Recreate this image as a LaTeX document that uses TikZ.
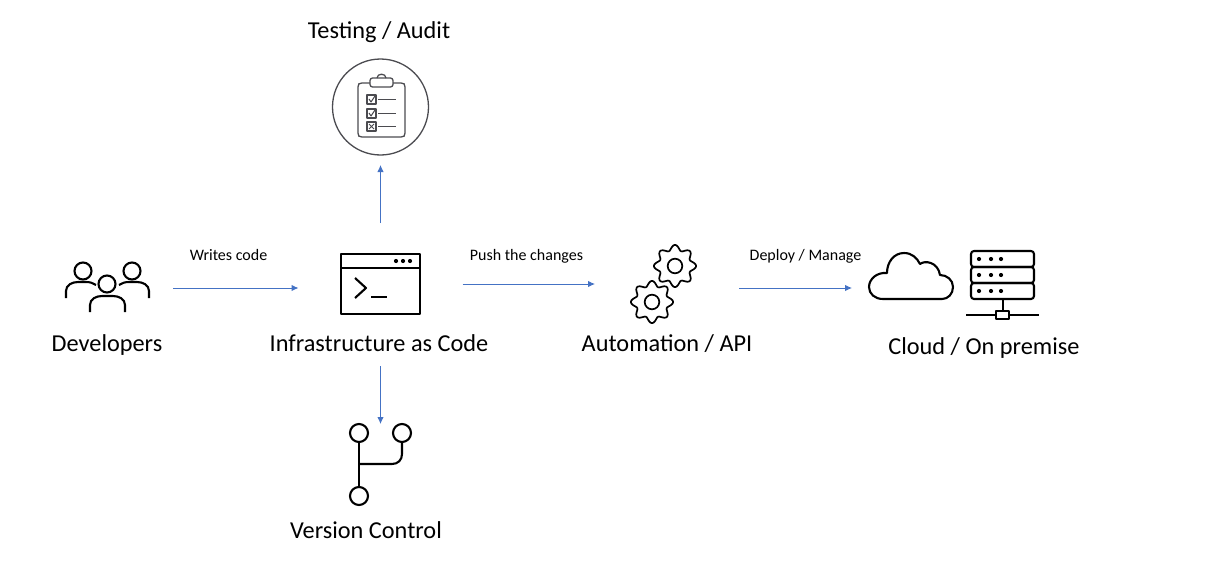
\documentclass[tikz,border=0pt]{standalone}
\usepackage{fontspec}
\setmainfont{Carlito}
\definecolor{flowblue}{RGB}{68,114,196}
\definecolor{auditgray}{RGB}{75,75,80}
\tikzset{
	anchorbox/.style={inner sep=0pt, outer sep=0pt},
	title/.style={inner sep=0pt, anchor=base, font=\fontsize{24.3}{28}\selectfont},
	edgetext/.style={inner sep=0pt, anchor=base, font=\fontsize{16}{19}\selectfont},
	flow/.style={draw=flowblue, line width=1pt, -{Latex[length=7pt, width=6.5pt]}},
	icon/.style={line width=2.1pt, line join=round, black},
	audit/.style={line width=1.3pt, line join=round, auditgray},
}
\usetikzlibrary{arrows.meta}
\newcommand{\gearicon}[2]{
	\draw[icon, line width=1.7pt] plot[smooth cycle, samples=97, domain=0:360, variable=\a]
		({#1+(18.5+2.6*cos(8*\a))*cos(\a)}, {#2+(18.5+2.6*cos(8*\a))*sin(\a)});
	\draw[icon, line width=1.7pt] (#1,#2) circle (7.3);
}
\begin{document}
\begin{tikzpicture}[x=1pt, y=-1pt]
	\useasboundingbox (0,0) rectangle (1205,562);

	% areas the arrows stop at
	\node[anchorbox, minimum width=132pt, minimum height=60pt] (developers) at (107,288) {};
	\node[anchorbox, minimum width=164pt, minimum height=143pt] (iac) at (380.5,294.5) {};
	\node[anchorbox, minimum width=144pt, minimum height=60pt] (automation) at (667,284) {};
	\node[anchorbox, minimum width=196pt, minimum height=60pt] (cloud) at (950,288) {};
	\node[anchorbox, circle, minimum size=116pt] (testing) at (380.5,107) {};
	\node[anchorbox, minimum width=60pt, minimum height=116pt] (version) at (380.5,482) {};

	% arrows
	\draw[flow] (developers) -- (developers -| iac.west);
	\draw[flow] (iac.east |- automation) -- (automation);
	\draw[flow] (automation.east |- cloud) -- (cloud);
	\draw[flow] (iac.north) -- (testing.south);
	\draw[flow] (iac.south) -- (version.north);

	% texts
	\node[title] (testing label) at (379,38) {Testing / Audit};
	\node[title] (developers label) at (107,351) {Developers};
	\node[title] (iac label) at (379,351) {Infrastructure as Code};
	\node[title] (automation label) at (667,351) {Automation / API};
	\node[title] (cloud label) at (984,354) {Cloud / On premise};
	\node[title] (version label) at (366,538) {Version Control};
	\node[edgetext] (writes label) at (228.5,260) {Writes code};
	\node[edgetext] (push label) at (526.5,260) {Push the changes};
	\node[edgetext] (deploy label) at (805.5,260) {Deploy / Manage};

	% people
	\draw[icon] (83,271) circle (8.5);
	\draw[icon] (132,271) circle (8.5);
	\draw[icon] (107,284) circle (8.5);
	\draw[icon] (66,298) -- (66,291) .. controls (66,285) and (72,282) .. (78,282) -- (86,282) .. controls (90,282) and (93,283) .. (96,285);
	\draw[icon] (149,298) -- (149,291) .. controls (149,285) and (143,282) .. (137,282) -- (129,282) .. controls (125,282) and (122,283) .. (119,285);
	\draw[icon] (90,312) -- (90,305) .. controls (90,299) and (96,296) .. (102,296) -- (113,296) .. controls (119,296) and (125,299) .. (125,305) -- (125,312);

	% terminal
	\draw[icon] (341,254) rectangle (420,314);
	\draw[icon] (341,268) -- (420,268);
	\foreach \dotx in {396,403,410} {
		\fill (\dotx,261) circle (2.1);
	}
	\draw[icon] (355,278) -- (366,288) -- (355,298);
	\draw[icon] (371,297) -- (387,297);

	% gears
	\gearicon{675}{266}
	\gearicon{652}{302}

	% cloud
	\draw[icon] (883,299) .. controls (875,299) and (869,294) .. (869,287)
		.. controls (869,279) and (877,272) .. (887,273)
		.. controls (887,262) and (894,253) .. (904,253)
		.. controls (912,253) and (917,258) .. (920,264)
		.. controls (925,260) and (938,262) .. (940,275)
		.. controls (947,275) and (953,280) .. (953,287)
		.. controls (953,294) and (948,299) .. (942,299) -- cycle;

	% server
	\foreach \servery in {251,267,283} {
		\draw[icon, rounded corners=3pt] (971,\servery) rectangle (1034,\servery+16);
		\foreach \dotx in {979,991,1001} {
			\fill (\dotx,\servery+8) circle (2.1);
		}
	}
	\draw[icon] (1003,299) -- (1003,311);
	\draw[icon] (966,315) -- (996,315);
	\draw[icon] (1009,315) -- (1039,315);
	\draw[icon] (996,311) rectangle (1009,319);

	% branches
	\draw[icon] (359,433) circle (9);
	\draw[icon] (402,433) circle (9);
	\draw[icon] (359,496) circle (9);
	\draw[icon] (359,442) -- (359,487);
	\draw[icon] (359,464) -- (392,464) .. controls (398,464) and (402,460) .. (402,454) -- (402,442);

	% clipboard
	\draw[audit] (380.5,107) circle (48);
	\draw[audit] (370,83) -- (362,83) .. controls (359,83) and (358,84) .. (358,87) -- (358,133) .. controls (358,136) and (359,137) .. (362,137) -- (401,137) .. controls (404,137) and (405,136) .. (405,133) -- (405,87) .. controls (405,84) and (404,83) .. (401,83) -- (393,83);
	\draw[audit, rounded corners=2.5pt] (370,78) rectangle (393,87);
	\draw[audit] (377,78) .. controls (377,73) and (386,73) .. (386,78);
	\foreach \boxy in {95,109,122} {
		\draw[audit] (367,\boxy) rectangle (376,\boxy+9);
		\draw[audit] (378,\boxy+4.5) -- (396,\boxy+4.5);
	}
	\draw[audit, line width=1pt] (369,99) -- (371,102) -- (375,96);
	\draw[audit, line width=1pt] (369,113) -- (371,116) -- (375,110);
	\draw[audit, line width=1pt] (369,124) -- (374,129) (374,124) -- (369,129);

\end{tikzpicture}
\end{document}
